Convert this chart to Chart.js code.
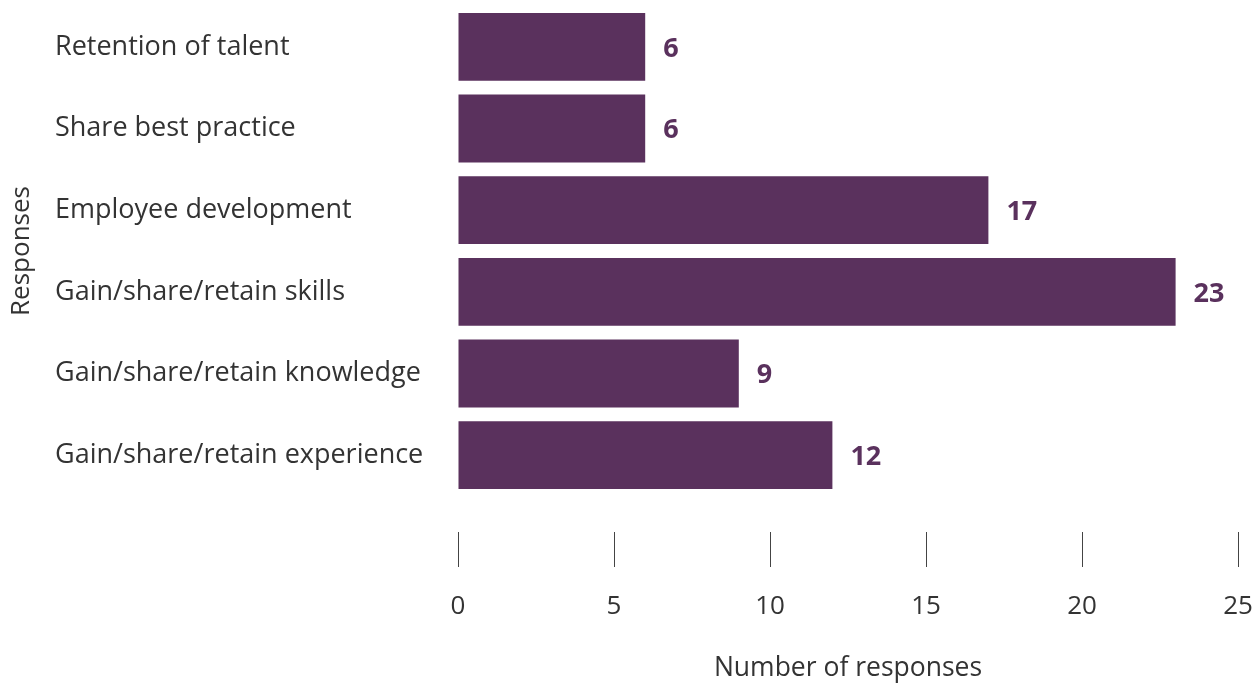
<!DOCTYPE html>
<html>
<head>
<meta charset="utf-8">
<script src="https://cdn.jsdelivr.net/npm/chart.js@4"></script>
<style>
  html, body { margin: 0; padding: 0; background: #fff; }
  #wrap { width: 1255px; height: 684px; }
</style>
</head>
<body>
<div id="wrap"><canvas id="responsesChart" width="1255" height="684"></canvas></div>
<script>
// ===============================
// Data
// ===============================
const categories = [
    "Retention of talent",
    "Share best practice",
    "Employee development",
    "Gain/share/retain skills",
    "Gain/share/retain knowledge",
    "Gain/share/retain experience"
];
const responseCounts = [6, 6, 17, 23, 9, 12];
const xTicks = [0, 5, 10, 15, 20, 25];

const barColor = "#5a315d";
const textColor = "#333333";
const fontFamily = "'Open Sans', 'Noto Sans', sans-serif";

// ===============================
// Value labels at the end of each bar
// ===============================
const valueLabels = {
    id: "valueLabels",
    afterDatasetsDraw(chart) {
        const ctx = chart.ctx;
        const meta = chart.getDatasetMeta(0);
        ctx.save();
        ctx.font = "bold 27px " + fontFamily;
        ctx.fillStyle = barColor;
        ctx.textAlign = "left";
        ctx.textBaseline = "middle";
        meta.data.forEach((bar, i) => {
            ctx.fillText(String(responseCounts[i]), bar.x + 18, bar.y + 2);
        });
        ctx.restore();
    }
};

const ctx = document.getElementById("responsesChart").getContext("2d");

new Chart(ctx, {
    type: "bar",
    data: {
        labels: categories,
        datasets: [{
            label: "Number of responses",
            data: responseCounts,
            backgroundColor: barColor,
            barPercentage: 0.83,
            categoryPercentage: 1
        }]
    },
    plugins: [valueLabels],
    options: {
        indexAxis: "y",
        responsive: false,
        animation: false,
        layout: { padding: { left: 55, top: 6, right: 17, bottom: 0 } },
        plugins: {
            legend: { display: false },
            tooltip: { enabled: false }
        },
        scales: {
            x: {
                min: 0,
                max: 25,
                afterBuildTicks: (scale) => {
                    scale.ticks = xTicks.map(v => ({ value: v }));
                },
                afterFit: (scale) => {
                    scale.height = 188;
                    scale.paddingLeft = 0;
                    scale.paddingRight = 0;
                },
                border: { display: false },
                grid: {
                    drawOnChartArea: false,
                    drawTicks: true,
                    tickLength: 71,
                    tickColor: "#444",
                    tickWidth: 1,
                    tickBorderDash: [35, 100],
                    tickBorderDashOffset: 99
                },
                ticks: {
                    color: textColor,
                    padding: 24,
                    font: { family: fontFamily, size: 26 }
                },
                title: {
                    display: true,
                    text: "Number of responses",
                    color: textColor,
                    padding: { top: 0, bottom: 0 },
                    font: { family: fontFamily, size: 26.5 }
                }
            },
            y: {
                afterFit: (scale) => {
                    scale.width = 403;
                    scale.paddingTop = 0;
                    scale.paddingBottom = 0;
                },
                border: { display: false },
                grid: { display: false },
                ticks: {
                    crossAlign: "far",
                    color: textColor,
                    padding: 10,
                    font: { family: fontFamily, size: 27 }
                },
                title: {
                    display: true,
                    text: "Responses",
                    color: textColor,
                    padding: { top: -49, bottom: 0 },
                    font: { family: fontFamily, size: 26 }
                }
            }
        }
    }
});
</script>
</body>
</html>
